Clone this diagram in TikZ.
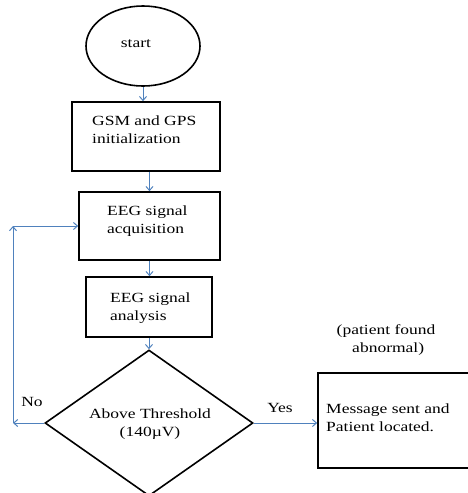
\documentclass[tikz,border=0pt]{standalone}
\usepackage{fontspec}
\setmainfont{Liberation Serif}[FakeStretch=1.25]
\usetikzlibrary{shapes.geometric,arrows.meta}
\definecolor{flowblue}{RGB}{79,129,189}
\tikzset{
  boxshape/.style={draw=black,line width=1.6pt,rectangle,inner sep=0pt},
  txt/.style={inner sep=0pt,align=left,font=\fontsize{14}{18}\selectfont},
  ctxt/.style={inner sep=0pt,align=center,font=\fontsize{14}{18}\selectfont},
  flow/.style={draw=flowblue,line width=1pt,-{Straight Barb[length=4pt,width=7pt]}},
  flowline/.style={draw=flowblue,line width=1pt}
}
\begin{document}
\begin{tikzpicture}[x=1pt,y=-1pt]
\useasboundingbox (0,0) rectangle (468,493);
% shapes
\node[draw=black,line width=1.6pt,ellipse,minimum width=114pt,minimum height=80pt,inner sep=0pt] (start) at (143,46) {};
\node[boxshape,minimum width=148pt,minimum height=69pt] (gsm) at (146,136.5) {};
\node[boxshape,minimum width=141pt,minimum height=68pt] (acq) at (149.5,226) {};
\node[boxshape,minimum width=126pt,minimum height=60pt] (ana) at (149,307) {};
\node[draw=black,line width=1.6pt,diamond,minimum width=208pt,minimum height=146pt,inner sep=0pt] (dia) at (149,423) {};
\node[boxshape,minimum width=162pt,minimum height=95pt] (msg) at (399,420.5) {};
% texts
\node[ctxt] (tstart) at (136,44) {start};
\node[txt,anchor=west] (tgsm) at (92,130) {GSM and GPS\\initialization};
\node[txt,anchor=west] (tacq) at (107,221) {EEG signal\\acquisition};
\node[txt,anchor=west] (tana) at (110,308) {EEG signal\\analysis};
\node[ctxt] (tdia) at (150,424) {Above Threshold\\(140µV)};
\node[ctxt] (tno) at (32,402) {No};
\node[ctxt] (tyes) at (280,408) {Yes};
\node[ctxt] (tnote) at (386,340) {(patient found\\\ abnormal)};
\node[txt,anchor=west] (tmsg) at (326,418) {Message sent and\\Patient located.};
% connectors
\coordinate (c1) at (13,423);
\coordinate (c2) at (13,226);
\draw[flow] (start.south) -- (start.south |- gsm.north);
\draw[flow] (acq.north |- gsm.south) -- (acq.north);
\draw[flow] (acq.south) -- (acq.south |- ana.north);
\draw[flow] (ana.south) -- (dia.north);
\draw[flow] (dia.east) -- (msg.west |- dia.east);
\draw[flow] (dia.west) -- (c1);
\draw[flow] (c1) -- (c2);
\draw[flow] (c2) -- (acq.west);
\end{tikzpicture}
\end{document}
